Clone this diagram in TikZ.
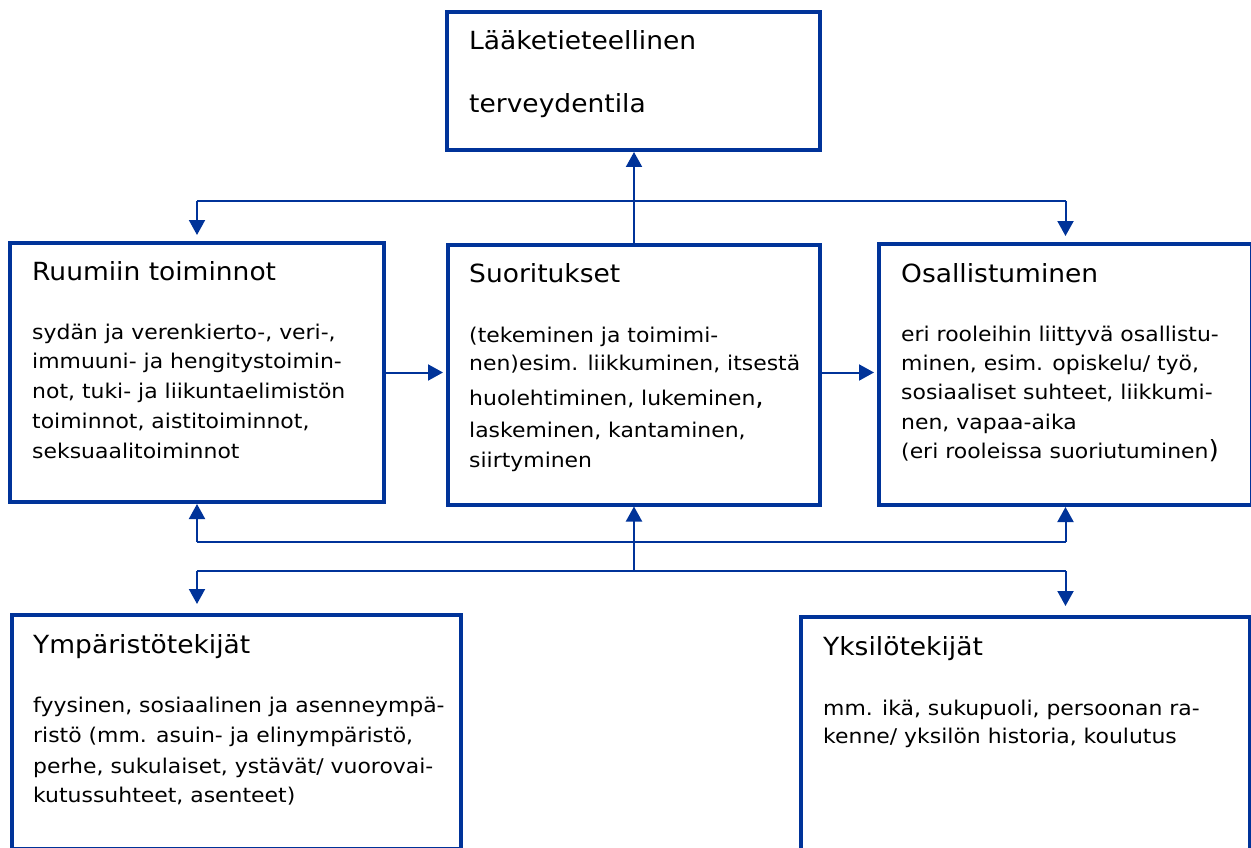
\documentclass[tikz,border=0pt]{standalone}
\usepackage{fontspec}
\setmainfont{DejaVu Sans}
\newfontfamily\titlefont{DejaVu Sans}[FakeStretch=1.06]
\newfontfamily\bodyfont{DejaVu Sans}[FakeStretch=1.08]
\usetikzlibrary{arrows.meta}
\definecolor{icfblue}{RGB}{0,51,153}
\begin{document}
\begin{tikzpicture}[x=1pt,y=-1pt,
 box/.style={draw=icfblue,line width=4pt,inner sep=0pt,anchor=north west},
 conn/.style={draw=icfblue,line width=2pt},
 arr/.style={conn,-{Triangle[length=15pt,width=16pt]}},
 ttl/.style={anchor=base west,inner sep=0pt,font=\titlefont\fontsize{25}{30}\selectfont},
 txt/.style={anchor=base west,inner sep=0pt,font=\bodyfont\fontsize{20.3}{24}\selectfont}]
\useasboundingbox (0,0) rectangle (1251,848);
\clip (0,0) rectangle (1251,848);
% boxes
\node[box,minimum width=373pt,minimum height=138pt] (laak) at (445,10) {};
\node[box,minimum width=374pt,minimum height=259pt] (ruum) at (8,241) {};
\node[box,minimum width=372pt,minimum height=260pt] (suor) at (446,242.5) {};
\node[box,minimum width=373pt,minimum height=261pt] (osal) at (877,242) {};
\node[box,minimum width=449pt,minimum height=234pt] (ymp) at (10,613) {};
\node[box,minimum width=449pt,minimum height=236pt] (yks) at (799,615) {};
% junctions
\coordinate (jt) at (634,201);
\coordinate (jb1) at (634,542);
\coordinate (jb2) at (634,571);
% connectors
\draw[conn] (ruum.north |- jt) -- (osal.north |- jt);
\draw[arr,shorten >=6pt] (ruum.north |- jt) -- (ruum.north);
\draw[arr,shorten >=6pt] (osal.north |- jt) -- (osal.north);
\draw[arr] ([yshift=-4pt]suor.north) -- (suor.north |- laak.south);
\draw[arr,shorten >=3pt] (ruum.east) -- (ruum.east -| suor.west);
\draw[arr,shorten >=3pt] (ruum.east -| suor.east) -- (ruum.east -| osal.west);
\draw[conn] (ruum.south |- jb1) -- (osal.south |- jb1);
\draw[arr] (ruum.south |- jb1) -- (ruum.south);
\draw[arr] (osal.south |- jb1) -- (osal.south);
\draw[arr] (jb2) -- (suor.south);
\draw[conn] (ruum.south |- jb2) -- (osal.south |- jb2);
\draw[arr,shorten >=9pt] (ruum.south |- jb2) -- (ruum.south |- ymp.north);
\draw[arr,shorten >=9pt] (osal.south |- jb2) -- (osal.south |- yks.north);
% texts: top
\node[ttl] (l1) at (469,50) {Lääketieteellinen};
\node[ttl] (l2) at (469,113) {terveydentila};
% left
\node[ttl] (r0) at (32,280) {Ruumiin toiminnot};
\node[txt] (r1) at (32,339) {sydän ja verenkierto-, veri-,};
\node[txt] (r2) at (32,368) {immuuni- ja hengitystoimin-};
\node[txt] (r3) at (32,398) {not, tuki- ja liikuntaelimistön};
\node[txt] (r4) at (32,428) {toiminnot, aistitoiminnot,};
\node[txt] (r5) at (32,458) {seksuaalitoiminnot};
% middle
\node[ttl] (s0) at (469,282) {Suoritukset};
\node[txt] (s1) at (469,342) {(tekeminen ja toimimi-};
\node[txt] (s2) at (469,370) {nen)esim. liikkuminen, itsestä};
\node[txt] (s3) at (469,405) {huolehtiminen, lukeminen{\titlefont\fontsize{25}{25}\selectfont ,}};
\node[txt] (s4) at (469,437) {laskeminen, kantaminen,};
\node[txt] (s5) at (469,467) {siirtyminen};
% right
\node[ttl] (o0) at (901,282) {Osallistuminen};
\node[txt] (o1) at (901,341) {eri rooleihin liittyvä osallistu-};
\node[txt] (o2) at (901,370) {minen, esim. opiskelu/ työ,};
\node[txt] (o3) at (901,399) {sosiaaliset suhteet, liikkumi-};
\node[txt] (o4) at (901,429) {nen, vapaa-aika};
\node[txt] (o5) at (901,458) {(eri rooleissa suoriutuminen{\titlefont\fontsize{25}{25}\selectfont )}};
% bottom left
\node[ttl] (y0) at (33,653) {Ympäristötekijät};
\node[txt] (y1) at (33,712) {fyysinen, sosiaalinen ja asenneympä-};
\node[txt] (y2) at (33,742) {ristö (mm. asuin- ja elinympäristö,};
\node[txt] (y3) at (33,773) {perhe, sukulaiset, ystävät/ vuorovai-};
\node[txt] (y4) at (33,802) {kutussuhteet, asenteet)};
% bottom right
\node[ttl] (k0) at (823,655) {Yksilötekijät};
\node[txt] (k1) at (823,715) {mm. ikä, sukupuoli, persoonan ra-};
\node[txt] (k2) at (823,743) {kenne/ yksilön historia, koulutus};
\end{tikzpicture}
\end{document}
